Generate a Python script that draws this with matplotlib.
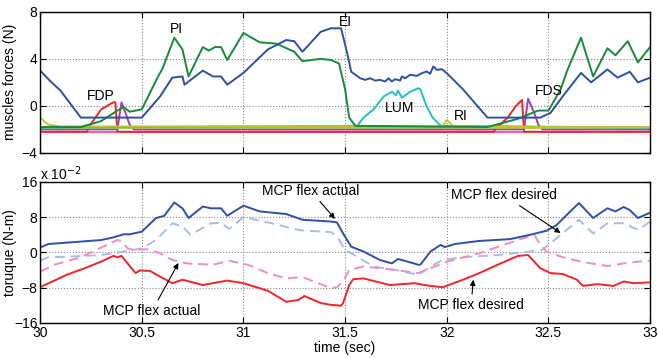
import numpy as np
import matplotlib
matplotlib.use('Agg')
import matplotlib.pyplot as plt

plt.rcParams['font.family'] = ['Liberation Sans', 'DejaVu Sans']
plt.rcParams['font.size'] = 10

# ---- muscle forces (N), top panel ----
ei_t = [30.0, 30.05, 30.1, 30.2, 30.44, 30.5, 30.59, 30.65, 30.70, 30.71, 30.8, 30.85, 30.89, 30.92,
        31.0, 31.12, 31.21, 31.25, 31.29, 31.38, 31.43, 31.48, 31.51, 31.53, 31.574, 31.599, 31.623,
        31.648, 31.672, 31.697, 31.713, 31.73, 31.746, 31.771, 31.779, 31.795, 31.82, 31.853, 31.877,
        31.902, 31.918, 31.934, 31.951, 31.976, 32.0, 32.08, 32.2, 32.46, 32.51, 32.57, 32.66, 32.71,
        32.79, 32.84, 32.9, 32.94, 33.0]
ei_f = [3.0, 2.1, 1.3, -1.0, -1.0, -1.0, 0.8, 2.4, 2.5, 1.8, 3.0, 2.5, 2.5, 1.8,
        2.8, 4.8, 5.6, 5.5, 4.6, 6.3, 6.6, 6.6, 4.5, 2.9, 2.35, 2.21, 2.35,
        2.15, 2.21, 2.07, 2.35, 2.07, 2.27, 2.15, 2.5, 2.35, 2.64, 2.55, 2.78,
        2.92, 2.72, 3.35, 3.06, 3.12, 2.78, 1.4, -1.0, -1.0, -0.6, 0.8, 2.8, 2.0,
        3.1, 2.4, 2.9, 2.0, 2.4]

pi_t = [30.0, 30.2, 30.3, 30.38, 30.41, 30.44, 30.5, 30.58, 30.6, 30.66, 30.7, 30.73, 30.8, 30.83,
        30.86, 30.89, 30.92, 31.0, 31.08, 31.16, 31.25, 31.29, 31.38, 31.43, 31.47, 31.5, 31.52,
        31.55, 32.2, 32.35, 32.45, 32.5, 32.56, 32.59, 32.66, 32.72, 32.79, 32.83, 32.89, 32.94, 33.0]
pi_f = [-1.8, -1.8, -1.3, -0.4, -0.1, -0.5, -0.3, 2.5, 3.1, 5.8, 4.8, 2.5, 5.0, 4.7,
        5.0, 5.0, 3.9, 6.2, 5.4, 5.3, 4.6, 3.8, 4.0, 3.9, 3.6, 1.4, -1.0,
        -1.7, -1.8, -1.1, -0.4, -0.4, 1.4, 2.9, 5.8, 2.5, 4.9, 4.3, 5.5, 3.7, 5.0]

fdp_t = [30.0, 30.23, 30.24, 30.3, 30.36, 30.37, 30.38, 32.23, 32.25, 32.3, 32.34, 32.37, 32.38, 33.0]
fdp_f = [-2.2, -2.2, -1.8, -0.3, 0.3, 0.3, -2.2, -2.2, -1.8, -1.0, 0.0, 0.5, -2.2, -2.2]

fds_t = [30.0, 30.38, 30.40, 30.42, 30.44, 30.46, 32.38, 32.40, 32.43, 32.45, 32.47, 33.0]
fds_f = [-2.0, -2.0, 0.3, -0.6, -1.6, -2.0, -2.0, 0.6, -0.6, -1.6, -2.0, -2.0]

lum_t = [30.0, 31.56, 31.59, 31.64, 31.69, 31.73, 31.75, 31.76, 31.78, 31.82, 31.86, 31.87, 31.9,
         31.93, 31.97, 33.0]
lum_f = [-1.85, -1.7, -1.0, -0.3, 0.8, 1.2, 0.9, 1.3, 0.7, 1.2, 1.5, 1.4, 0.0, -1.0, -1.7, -1.85]

ri_t = [30.0, 30.04, 30.1, 31.98, 32.0, 32.03, 32.2, 33.0]
ri_f = [-1.0, -1.6, -1.75, -1.75, -1.2, -1.7, -1.8, -1.8]

base_t = [30.0, 33.0]
base_f = [-1.8, -1.8]
pink_f = [-2.25, -2.25]

# ---- torque (x 1e-2 N-m), bottom panel ----
act_t = [30.0, 30.04, 30.3, 30.36, 30.41, 30.44, 30.5, 30.57, 30.61, 30.66, 30.7, 30.73, 30.8, 30.84,
         30.89, 30.92, 31.0, 31.08, 31.21, 31.29, 31.43, 31.46, 31.49, 31.53, 31.59, 31.67, 31.73,
         31.76, 31.8, 31.86, 31.87, 31.92, 31.97, 31.99, 32.04, 32.16, 32.31, 32.41, 32.49, 32.54,
         32.59, 32.65, 32.72, 32.79, 32.83, 32.87, 32.9, 32.94, 33.0]
act_y = [1.1, 1.9, 2.8, 3.4, 4.1, 4.1, 4.7, 7.8, 8.3, 11.3, 10.0, 7.8, 10.4, 10.0,
         10.0, 8.3, 10.6, 9.3, 8.7, 7.4, 7.0, 6.8, 4.3, 1.3, 0.2, -1.7, -2.5,
         -1.5, -2.0, -2.8, -2.8, 0.2, 1.7, 1.2, 1.9, 2.6, 3.0, 4.0, 4.9, 6.2,
         8.5, 11.2, 7.8, 10.0, 9.3, 10.3, 9.6, 7.8, 9.0]

act_d_t = [30.0, 30.04, 30.13, 30.3, 30.39, 30.5, 30.57, 30.65, 30.7, 30.74, 30.84, 30.89, 30.93,
           31.0, 31.12, 31.28, 31.43, 31.46, 31.5, 31.56, 31.64, 31.75, 31.86, 31.92, 31.98, 32.08,
           32.25, 32.41, 32.47, 32.54, 32.61, 32.65, 32.72, 32.79, 32.87, 32.94, 33.0]
act_d_y = [-1.9, -1.1, -1.0, -0.6, 0.0, 0.9, 2.8, 6.6, 5.9, 4.0, 6.6, 6.7, 5.3,
           8.0, 6.8, 5.0, 4.6, 3.6, 0.6, -1.0, -3.2, -4.0, -5.1, -3.2, -1.7, -1.1,
           -0.6, 0.2, 0.6, 3.2, 5.9, 7.4, 4.3, 6.6, 6.6, 5.1, 7.0]

des_t = [30.0, 30.13, 30.23, 30.3, 30.36, 30.38, 30.4, 30.43, 30.47, 30.49, 30.54, 30.59, 30.65,
         30.7, 30.8, 30.92, 31.0, 31.12, 31.21, 31.27, 31.3, 31.38, 31.43, 31.48, 31.49, 31.52,
         31.54, 31.59, 31.72, 31.84, 31.92, 31.98, 32.08, 32.16, 32.25, 32.35, 32.4, 32.41, 32.46,
         32.51, 32.57, 32.64, 32.67, 32.74, 32.82, 32.87, 32.92, 33.0]
des_y = [-7.9, -5.1, -3.4, -2.1, -0.8, -1.1, -0.8, -2.5, -4.7, -4.1, -4.2, -5.5, -7.0,
         -6.2, -7.4, -6.4, -7.0, -8.7, -11.2, -10.8, -9.9, -11.5, -11.9, -12.1, -11.5, -7.4,
         -6.1, -5.9, -7.4, -7.0, -7.6, -7.9, -6.2, -4.7, -2.8, -0.8, -0.6, -1.1, -3.6,
         -4.7, -4.9, -6.2, -7.6, -7.2, -7.6, -6.6, -7.0, -6.8]

des_d_t = [30.0, 30.07, 30.2, 30.31, 30.38, 30.4, 30.43, 30.46, 30.53, 30.59, 30.65, 30.72, 30.85,
           30.93, 31.02, 31.12, 31.21, 31.29, 31.43, 31.46, 31.49, 31.52, 31.59, 31.67, 31.75,
           31.86, 31.92, 32.0, 32.16, 32.28, 32.35, 32.43, 32.45, 32.49, 32.57, 32.66, 32.79,
           32.87, 32.94, 33.0]
des_d_y = [-4.4, -2.8, -1.1, 1.3, 2.8, 2.6, 0.9, 0.6, 0.7, -0.2, -1.7, -2.5, -2.8,
           -1.9, -2.8, -4.7, -5.9, -5.6, -8.1, -7.9, -6.6, -4.0, -3.2, -3.6, -4.0,
           -4.7, -3.6, -2.1, -0.2, 1.7, 2.8, 4.0, 2.5, 0.2, -1.1, -2.1, -3.1,
           -2.5, -2.1, -1.9]

xticks = [30, 30.5, 31, 31.5, 32, 32.5, 33]
xticklabels = ['30', '30.5', '31', '31.5', '32', '32.5', '33']

c_blue = '#2f4fa3'
c_green = '#178a3c'
c_red = '#f0242b'
c_mag = '#a83fa8'
c_cyan = '#22bfc4'
c_yel = '#c4c42a'
c_base = '#a6bf50'

fig = plt.figure(figsize=(6.58, 3.58), dpi=100)
ax1 = fig.add_axes([0.061, 0.573, 0.927, 0.394])
ax2 = fig.add_axes([0.061, 0.098, 0.927, 0.394])

lw = 1.4
ax1.plot(base_t, pink_f, color='#f06090', lw=lw)
ax1.plot(fdp_t, fdp_f, color=c_red, lw=lw)
ax1.plot(fds_t, fds_f, color=c_mag, lw=lw)
ax1.plot(base_t, base_f, color=c_base, lw=2.0)
ax1.plot(lum_t, lum_f, color=c_cyan, lw=lw)
ax1.plot(ri_t, ri_f, color=c_yel, lw=lw)
ax1.plot(pi_t, pi_f, color=c_green, lw=lw)
ax1.plot(ei_t, ei_f, color=c_blue, lw=lw)

ax1.text(30.3, 0.85, 'FDP', ha='center', va='center')
ax1.text(30.67, 6.5, 'PI', ha='center', va='center')
ax1.text(31.5, 7.1, 'EI', ha='center', va='center')
ax1.text(31.77, -0.2, 'LUM', ha='center', va='center')
ax1.text(32.07, -0.9, 'RI', ha='center', va='center')
ax1.text(32.5, 1.3, 'FDS', ha='center', va='center')

ax1.set_xlim(30, 33)
ax1.set_ylim(-4, 8)
ax1.set_yticks([-4, 0, 4, 8])
ax1.set_xticks(xticks)
ax1.set_xticklabels([])
ax1.set_ylabel('muscles forces (N)')

ax2.plot(act_d_t, act_d_y, color='#a9bce4', lw=lw, ls=(0, (5, 3)))
ax2.plot(des_d_t, des_d_y, color='#f08cc4', lw=lw, ls=(0, (5, 3)))
ax2.plot(act_t, act_y, color=c_blue, lw=lw)
ax2.plot(des_t, des_y, color=c_red, lw=lw)

arr = dict(arrowstyle='-|>', color='black', lw=0.8, mutation_scale=8, shrinkA=1, shrinkB=0)
ax2.annotate('MCP flex actual', xy=(31.45, 7.6), xytext=(31.33, 14.0), ha='center', va='center', arrowprops=arr)
ax2.annotate('MCP flex desired', xy=(32.56, 4.4), xytext=(32.28, 13.0), ha='center', va='center', arrowprops=arr)
ax2.annotate('MCP flex actual', xy=(30.68, -2.4), xytext=(30.55, -13.3), ha='center', va='center', arrowprops=arr)
ax2.annotate('MCP flex desired', xy=(32.13, -6.2), xytext=(32.12, -12.0), ha='center', va='center', arrowprops=arr)

ax2.set_xlim(30, 33)
ax2.set_ylim(-16, 16)
ax2.set_yticks([-16, -8, 0, 8, 16])
ax2.set_xticks(xticks)
ax2.set_xticklabels(xticklabels)
ax2.set_ylabel('toruque (N-m)')
ax2.set_xlabel('time (sec)', labelpad=1)
ax2.text(0.0, 0.995, r'x 10$^{-2}$', transform=ax2.transAxes, ha='left', va='bottom')

for ax in (ax1, ax2):
    ax.grid(True, ls=':', color='#888888', lw=0.8)
    ax.tick_params(direction='in', top=True, right=True, length=4, width=0.8, pad=2)
    ax.yaxis.set_label_coords(-0.038, 0.5)
    for s in ax.spines.values():
        s.set_linewidth(1.0)

fig.savefig('out.png', dpi=100)
